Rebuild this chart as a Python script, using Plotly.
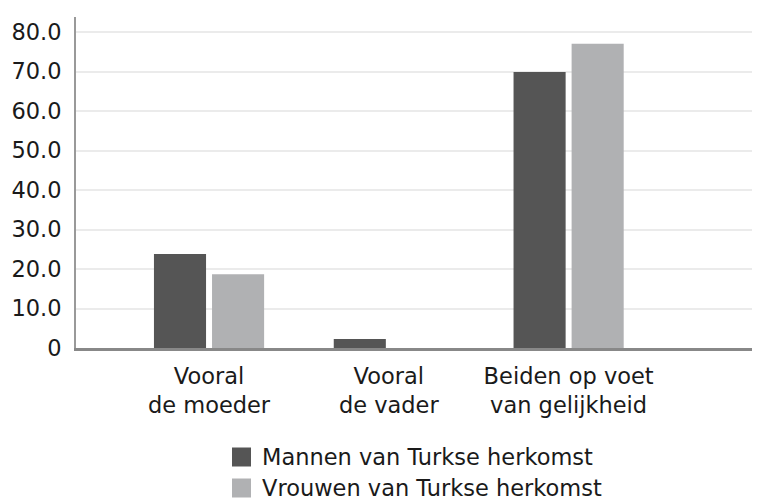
import plotly.graph_objects as go

categories = ["Vooral<br>de moeder", "Vooral<br>de vader", "Beiden op voet<br>van gelijkheid"]
series_names = ["Mannen van Turkse herkomst", "Vrouwen van Turkse herkomst"]
mannen = [23.8, 2.3, 69.9]
vrouwen = [18.7, 0.0, 77.0]
y_ticks = [0, 10, 20, 30, 40, 50, 60, 70, 80]
y_tick_labels = ["0", "10.0", "20.0", "30.0", "40.0", "50.0", "60.0", "70.0", "80.0"]

colors = ["#555555", "#b0b1b3"]
font_family = "DejaVu Sans, Verdana, sans-serif"
fsize = 22.5

fig = go.Figure()
for name, vals, col in zip(series_names, [mannen, vrouwen], colors):
    fig.add_trace(go.Bar(x=categories, y=vals, name=name, marker_color=col,
                         marker_line_width=0, showlegend=False))

# Custom legend: large square swatches with labels underneath the plot
legend_rows_y = [457, 488]
for name, col, yy in zip(series_names, colors, legend_rows_y):
    fig.add_shape(type="rect", xref="paper", yref="paper",
                  x0=(232 - 76) / 676, x1=(251 - 76) / 676,
                  y0=(348 - (yy + 9.5)) / 331, y1=(348 - (yy - 9.5)) / 331,
                  fillcolor=col, line_width=0)
    fig.add_annotation(text=name, xref="paper", yref="paper",
                       x=(260 - 76) / 676, y=(348 - yy) / 331,
                       xanchor="left", yanchor="middle", showarrow=False,
                       font=dict(size=fsize, color="#1a1a1a", family=font_family))

fig.update_layout(
    width=757, height=500,
    margin=dict(l=76, r=5, t=17, b=152),
    paper_bgcolor="white", plot_bgcolor="white",
    barmode="group", bargap=0.354, bargroupgap=0.103,
    font=dict(family=font_family, size=fsize, color="#1a1a1a"),
    xaxis=dict(type="category", range=[-0.74, 3.02], showgrid=False,
               showline=True, linecolor="#888888", linewidth=3,
               ticks="", ticklabelstandoff=6, tickfont=dict(size=fsize)),
    yaxis=dict(range=[0, 83.8], tickvals=y_ticks, ticktext=y_tick_labels,
               showgrid=True, gridcolor="#ebebeb", gridwidth=2,
               showline=True, linecolor="#999999", linewidth=2,
               zeroline=False, ticks="", ticklabelstandoff=8,
               tickfont=dict(size=fsize)),
)

fig.write_html("out.html")
